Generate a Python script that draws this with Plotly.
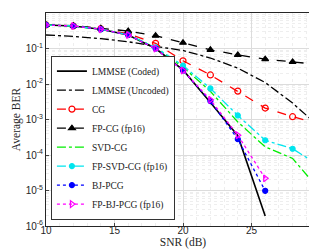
import plotly.graph_objects as go

snr = [10, 12, 14, 16, 18, 20, 22, 24, 26, 28, 30]
snr_short = [10, 12, 14, 16, 18, 20, 22, 24, 26]

lmmse_coded = [0.46, 0.43, 0.35, 0.24, 0.10, 0.025, 0.003, 3.5e-4, 1.9e-6]
lmmse_uncoded = [0.24, 0.22, 0.19, 0.155, 0.115, 0.088, 0.054, 0.028, 0.011, 0.0029, 6e-4]
cg = [0.46, 0.43, 0.36, 0.26, 0.14, 0.045, 0.018, 0.0063, 0.0021, 0.0012, 0.00074]
fp_cg = [0.46, 0.44, 0.37, 0.31, 0.23, 0.145, 0.092, 0.066, 0.05, 0.042, 0.035]
svd_cg = [0.46, 0.43, 0.35, 0.245, 0.105, 0.03, 0.0062, 8.5e-4, 1.7e-4, 8e-5, 1e-5]
fp_svd_cg = [0.46, 0.43, 0.35, 0.245, 0.107, 0.033, 0.0075, 0.0013, 2.6e-4, 1.5e-4, 4.9e-5]
bj_pcg = [0.46, 0.43, 0.35, 0.24, 0.10, 0.024, 0.0033, 2.8e-4, 9.8e-6]
fp_bj_pcg = [0.46, 0.43, 0.35, 0.24, 0.10, 0.024, 0.0036, 3.6e-4, 2.2e-5]

y_tickvals = [1e-6, 1e-5, 1e-4, 1e-3, 1e-2, 1e-1, 1]
y_ticktext = ["10<sup>-6</sup>", "10<sup>-5</sup>", "10<sup>-4</sup>", "10<sup>-3</sup>",
              "10<sup>-2</sup>", "10<sup>-1</sup>", "10<sup>0</sup>"]
x_tickvals = [10, 15, 20, 25, 30]

fig = go.Figure()

def add(x, y, name, color, dash, symbol=None, msize=6, width=1.3, mfill=None):
    mode = "lines+markers" if symbol else "lines"
    marker = dict(symbol=symbol, size=msize, color=mfill or color,
                  line=dict(color=color, width=1.2)) if symbol else None
    fig.add_trace(go.Scatter(x=x, y=y, name=name, mode=mode,
                             line=dict(color=color, dash=dash, width=width),
                             marker=marker))

add(snr_short, lmmse_coded, "LMMSE (Coded)", "black", "solid", width=1.6)
add(snr, lmmse_uncoded, "LMMSE (Uncoded)", "black", "dashdot", width=1.3)
add(snr, cg, "CG", "#ff0000", "dash", symbol="circle-open", msize=6, width=1.3)
add(snr, fp_cg, "FP-CG (fp16)", "black", "dash", symbol="triangle-up", msize=6, width=1.3)
add(snr, svd_cg, "SVD-CG", "#00ee00", "dashdot", width=1.3)
add(snr, fp_svd_cg, "FP-SVD-CG (fp16)", "#00e5ee", "dashdot", symbol="circle", msize=5, width=1.3)
add(snr_short, bj_pcg, "BJ-PCG", "#0000ff", "dot", symbol="circle", msize=5, width=1.3)
add(snr_short, fp_bj_pcg, "FP-BJ-PCG (fp16)", "#ff00ff", "dot", symbol="triangle-right-open", msize=6, width=1.3)

fig.update_layout(
    width=317, height=251,
    margin=dict(l=38, r=5, t=5, b=33),
    paper_bgcolor="white", plot_bgcolor="white",
    font=dict(family="Liberation Sans, Arial", size=10, color="#262626"),
    showlegend=True,
    legend=dict(x=0.018, y=0.03, xanchor="left", yanchor="bottom",
                bgcolor="white", bordercolor="#333333", borderwidth=1,
                font=dict(family="Liberation Serif, DejaVu Serif", size=9.5, color="#222222"),
                tracegroupgap=0, itemwidth=30),
)
fig.update_xaxes(
    range=[10, 30], tickvals=x_tickvals, ticks="inside", ticklen=3,
    ticklabelstandoff=-5,
    showline=True, linecolor="#262626", linewidth=1, mirror=True,
    showgrid=True, gridcolor="#dcdcdc", gridwidth=1, zeroline=False,
    minor=dict(dtick=1, showgrid=True, gridcolor="#eeeeee", griddash="dot", ticks=""),
    title=dict(text="SNR (dB)", font=dict(family="Liberation Serif, DejaVu Serif", size=11.5, color="#262626"), standoff=0),
    tickfont=dict(size=10),
)
fig.update_yaxes(
    type="log", range=[-6, 0], tickvals=y_tickvals, ticktext=y_ticktext,
    ticks="inside", ticklen=3,
    showline=True, linecolor="#262626", linewidth=1, mirror=True,
    showgrid=True, gridcolor="#dcdcdc", gridwidth=1, zeroline=False,
    minor=dict(dtick="D1", showgrid=True, gridcolor="#eeeeee", griddash="dot", ticks=""),
    title=dict(text="Average BER", font=dict(family="Liberation Serif, DejaVu Serif", size=11.5, color="#262626"), standoff=2),
    tickfont=dict(size=10),
)

fig.write_html("out.html")
